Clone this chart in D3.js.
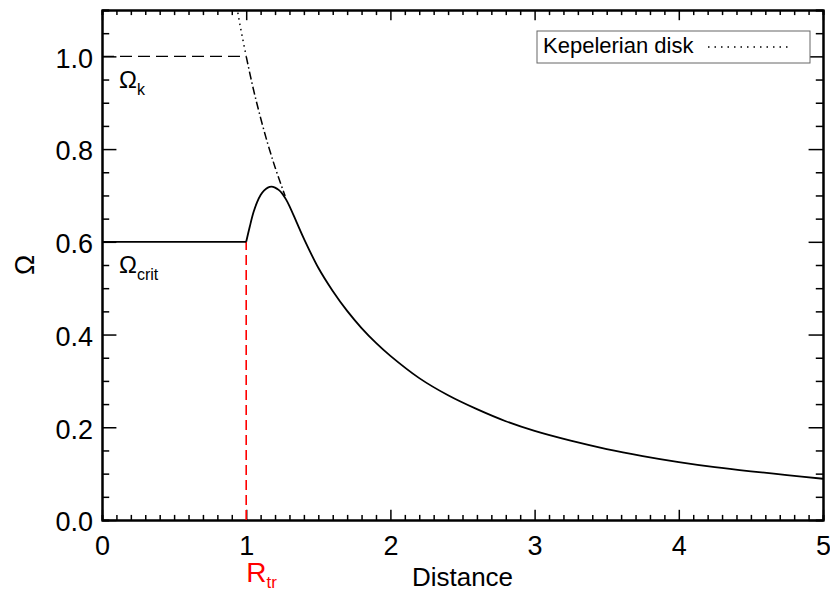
<!DOCTYPE html>
<html>
<head>
<meta charset="utf-8">
<script src="https://cdn.jsdelivr.net/npm/d3@7"></script>
<style>
  body { margin: 0; background: #fff; }
  svg { font-family: "Liberation Sans", Arial, sans-serif; }
  .axis path { stroke: #000; stroke-width: 2px; }
  .axis line { stroke: #000; stroke-width: 1.5px; }
  .axis text { font-size: 27px; fill: #000; }
</style>
</head>
<body>
<svg width="830" height="594"></svg>
<script>
// disk rotation curve (solid line)
var diskDist  = [1.0, 1.025, 1.05, 1.075, 1.1, 1.125, 1.15, 1.175, 1.2, 1.225, 1.25, 1.275,
                 1.3, 1.35, 1.4, 1.5, 1.6, 1.7, 1.8, 1.9, 2.0, 2.2, 2.4, 2.6, 2.8, 3.0,
                 3.25, 3.5, 3.75, 4.0, 4.25, 4.5, 4.75, 5.0];
var diskOmega = [0.6, 0.633, 0.663, 0.685, 0.701, 0.711, 0.717, 0.719, 0.717, 0.712, 0.704, 0.692,
                 0.677, 0.642, 0.607, 0.544, 0.494, 0.451, 0.414, 0.382, 0.354, 0.306, 0.269, 0.239, 0.213, 0.192,
                 0.171, 0.153, 0.138, 0.125, 0.114, 0.105, 0.097, 0.089];

// Ω_crit plateau inside R_tr
var critDist  = [0, 1];
var critOmega = [0.6, 0.6];

// Ω_k level inside R_tr (dashed)
var kDist  = [0, 1];
var kOmega = [1.0, 1.0];

// Keplerian disk, dotted part (above 1.0) and dash-dot part
var keplerDotDist   = [0.935, 0.96, 0.98, 1.0];
var keplerDotOmega  = [1.106, 1.063, 1.031, 1.0];
var keplerDashDist  = [1.0, 1.05, 1.1, 1.15, 1.2, 1.25, 1.27];
var keplerDashOmega = [1.0, 0.929, 0.867, 0.811, 0.761, 0.716, 0.699];

// transition radius
var rTr = 1.0;

var xMajor = [0, 1, 2, 3, 4, 5];
var yMajor = [0, 0.2, 0.4, 0.6, 0.8, 1.0];

var svg = d3.select("svg"),
	margin = {top: 10, right: 7, bottom: 74, left: 102},
	width = svg.attr("width") - margin.left - margin.right,
	height = svg.attr("height") - margin.top - margin.bottom;

var g = svg.append("g")
	.attr("transform", "translate(" + margin.left + "," + margin.top + ")");

var x = d3.scaleLinear().domain([0, 5]).range([0, width]);
var y = d3.scaleLinear().domain([0, 1.1]).range([height, 0]);

// IDL style ticks: inward on all four sides, length relative to plot size
var xTick = 0.02 * height, yTick = 0.02 * width;
var xMinor = d3.range(0, 5.0001, 0.1).filter(function (d) { return Math.abs(d - Math.round(d)) > 1e-6; });
var yMinor = d3.range(0, 1.1001, 0.05).filter(function (d) { return Math.abs(d * 5 - Math.round(d * 5)) > 1e-6; });

function addAxis(axisFn, scale, tf, major, minor, len, labels, fmt, pad) {
	g.append("g").attr("class", "axis").attr("transform", tf)
		.call(axisFn(scale).tickValues(minor).tickSize(-len / 2).tickFormat(""));
	var a = g.append("g").attr("class", "axis").attr("transform", tf)
		.call(axisFn(scale).tickValues(major).tickSizeInner(-len).tickSizeOuter(0)
			.tickPadding(pad).tickFormat(labels ? fmt : ""));
	return a;
}

addAxis(d3.axisBottom, x, "translate(0," + height + ")", xMajor, xMinor, xTick, true, d3.format("d"), 16);
addAxis(d3.axisTop, x, "translate(0,0)", xMajor, xMinor, xTick, false);
var yAx = addAxis(d3.axisLeft, y, "translate(0,0)", yMajor, yMinor, yTick, true, d3.format(".1f"), 9);
yAx.selectAll("text").attr("dy", "0.4em");
addAxis(d3.axisRight, y, "translate(" + width + ",0)", yMajor, yMinor, yTick, false);

g.append("clipPath").attr("id", "clip")
	.append("rect").attr("width", width).attr("height", height);

var plot = g.append("g").attr("clip-path", "url(#clip)");

var line = d3.line()
	.x(function (d) { return x(d[0]); })
	.y(function (d) { return y(d[1]); });

function zip(a, b) { return a.map(function (v, i) { return [v, b[i]]; }); }

// red dashed R_tr marker
plot.append("path")
	.datum([[rTr, 0], [rTr, critOmega[1]]])
	.attr("d", line)
	.attr("fill", "none").attr("stroke", "#ff0000").attr("stroke-width", 1.6)
	.attr("stroke-dasharray", "10,5");

// Ω_k dashed
plot.append("path")
	.datum(zip(kDist, kOmega))
	.attr("d", line)
	.attr("fill", "none").attr("stroke", "#000").attr("stroke-width", 1.4)
	.attr("stroke-dasharray", "12,6");

// keplerian dotted / dash-dot
plot.append("path")
	.datum(zip(keplerDotDist, keplerDotOmega))
	.attr("d", line.curve(d3.curveMonotoneX))
	.attr("fill", "none").attr("stroke", "#000").attr("stroke-width", 1.5)
	.attr("stroke-dasharray", "1.5,4");

plot.append("path")
	.datum(zip(keplerDashDist, keplerDashOmega))
	.attr("d", line.curve(d3.curveMonotoneX))
	.attr("fill", "none").attr("stroke", "#000").attr("stroke-width", 1.5)
	.attr("stroke-dasharray", "8,3,1.5,3");

// Ω_crit plateau and disk curve
plot.append("path")
	.datum(zip(critDist, critOmega))
	.attr("d", line.curve(d3.curveLinear))
	.attr("fill", "none").attr("stroke", "#000").attr("stroke-width", 1.8);

plot.append("path")
	.datum(zip(diskDist, diskOmega))
	.attr("d", line.curve(d3.curveCatmullRom.alpha(0.5)))
	.attr("fill", "none").attr("stroke", "#000").attr("stroke-width", 1.8);

// annotations
function subLabel(px, py, main, sub, color, size, subSize, drop) {
	var t = svg.append("text").attr("x", px).attr("y", py)
		.attr("fill", color).style("font-size", size + "px");
	t.append("tspan").text(main);
	t.append("tspan").attr("dy", drop).style("font-size", subSize + "px").text(sub);
}
subLabel(119, 88, "Ω", "k", "#000", 24, 16, 7);
subLabel(119, 273, "Ω", "crit", "#000", 24, 16, 7);
subLabel(margin.left + x(rTr), 582, "R", "tr", "#ff0000", 28, 17, 6);

svg.append("text")
	.attr("x", margin.left + width / 2).attr("y", 586)
	.attr("text-anchor", "middle").style("font-size", "26px")
	.text("Distance");

svg.append("text")
	.attr("transform", "translate(34," + (margin.top + height / 2) + ") rotate(-90)")
	.attr("text-anchor", "middle").style("font-size", "27px")
	.text("Ω");

// legend
var leg = svg.append("g").attr("transform", "translate(537,31)");
leg.append("rect").attr("width", 273).attr("height", 32)
	.attr("fill", "#fff").attr("stroke", "#666").attr("stroke-width", 1);
leg.append("text").attr("x", 6).attr("y", 22).style("font-size", "22px")
	.text("Kepelerian disk");
leg.append("line").attr("x1", 171).attr("x2", 252).attr("y1", 16).attr("y2", 16)
	.attr("stroke", "#000").attr("stroke-width", 1.5).attr("stroke-dasharray", "1.5,5");
</script>
</body>
</html>
